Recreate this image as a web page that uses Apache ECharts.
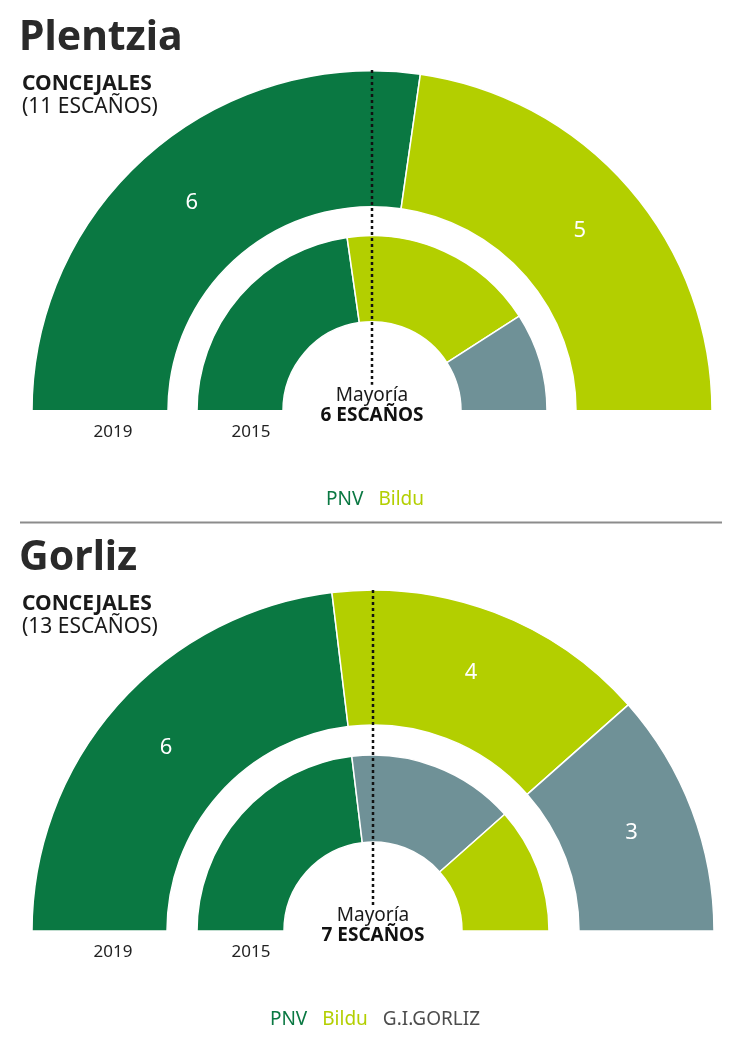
<!DOCTYPE html>
<html>
<head>
<meta charset="utf-8">
<script src="https://cdn.jsdelivr.net/npm/echarts@6/dist/echarts.min.js"></script>
<style>
  html, body { margin: 0; padding: 0; background: #fff; }
  #chart { width: 745px; height: 1048px; }
</style>
</head>
<body>
<div id="chart"></div>
<script>
// datos: escaños por partido
const plentziaParties2019 = ['PNV', 'Bildu'];
const plentziaSeats2019 = [6, 5];
const plentziaParties2015 = ['PNV', 'Bildu', 'Otros'];
const plentziaSeats2015 = [5, 4, 2];

const gorlizParties2019 = ['PNV', 'Bildu', 'G.I.GORLIZ'];
const gorlizSeats2019 = [6, 4, 3];
const gorlizParties2015 = ['PNV', 'G.I.GORLIZ', 'Bildu'];
const gorlizSeats2015 = [6, 4, 3];

const yearLabels = ['2019', '2015'];

const partyColors = {
  'PNV': '#0a7842',
  'Bildu': '#b3cf00',
  'Otros': '#6f9197',
  'G.I.GORLIZ': '#6f9197'
};

var FONT = '"Noto Sans", sans-serif';

function pieData(names, values) {
  return names.map(function (n, i) {
    return { name: n, value: values[i], itemStyle: { color: partyColors[n] } };
  });
}

function ring(names, values, cx, cy, r0, r1, showLabel) {
  return {
    type: 'pie',
    center: [cx, cy],
    radius: [r0, r1],
    startAngle: 180,
    endAngle: 0,
    clockwise: true,
    silent: true,
    animation: false,
    itemStyle: { borderColor: '#fff', borderWidth: 1.5 },
    label: {
      show: showLabel,
      position: 'inside',
      color: '#fff',
      fontSize: 22,
      fontFamily: FONT,
      formatter: '{c}'
    },
    labelLine: { show: false },
    emphasis: { disabled: true },
    data: pieData(names, values)
  };
}

// textos de cada bloque
function blockTexts(title, total, majority, cx, cy, topY) {
  var dy = cy - 410.7;
  var mid = { textVerticalAlign: 'middle', verticalAlign: 'middle' };
  function t(text, x, y, font, fill, center) {
    var s = { text: text, x: x, y: y, font: font, fill: fill, textVerticalAlign: 'middle', verticalAlign: 'middle' };
    if (center) { s.textAlign = 'center'; s.align = 'center'; }
    return { type: 'text', z: 100, style: s };
  }
  return [
    t(title, 19, 38 + dy, 'bold 41px ' + FONT, '#2a2a2a'),
    t('CONCEJALES', 22, 84 + dy, 'bold 21px ' + FONT, '#1a1a1a'),
    t('(' + total + ' ESCAÑOS)', 22, 107 + dy, '21px ' + FONT, '#1a1a1a'),
    { type: 'line', z: 100, shape: { x1: cx, y1: topY, x2: cx, y2: cy - 26 }, style: { stroke: '#111', lineWidth: 2.5, lineDash: [3, 3] } },
    t('Mayoría', cx, cy - 15, '19px ' + FONT, '#1a1a1a', true),
    t(majority + ' ESCAÑOS', cx, cy + 5, 'bold 19px ' + FONT, '#111', true),
    t(yearLabels[0], 113, cy + 21, '17px ' + FONT, '#222', true),
    t(yearLabels[1], 251, cy + 21, '17px ' + FONT, '#222', true)
  ];
}

function legendFor(names, top) {
  return {
    top: top,
    left: 'center',
    icon: 'none',
    itemWidth: 0,
    itemHeight: 14,
    itemGap: 10,
    selectedMode: false,
    textStyle: { fontSize: 19, fontFamily: FONT },
    data: names.map(function (n) {
      return { name: n, textStyle: { color: n === 'G.I.GORLIZ' ? '#4d4d4d' : partyColors[n] } };
    })
  };
}

var PX = 372, PY = 410.7;
var GX = 373, GY = 931;

var myChart = echarts.init(document.getElementById('chart'));
myChart.setOption({
  animation: false,
  legend: [
    legendFor(['PNV', 'Bildu'], 485),
    legendFor(['PNV', 'Bildu', 'G.I.GORLIZ'], 1005)
  ],
  graphic: blockTexts('Plentzia', 11, 6, PX, PY, 70)
    .concat(blockTexts('Gorliz', 13, 7, GX, GY, 590))
    .concat([
      { type: 'line', z: 100, shape: { x1: 20, y1: 522.5, x2: 722, y2: 522.5 }, style: { stroke: '#8c8c8c', lineWidth: 2 } }
    ]),
  series: [
    ring(plentziaParties2019, plentziaSeats2019, PX, PY, 204, 340, true),
    ring(plentziaParties2015, plentziaSeats2015, PX, PY, 89, 175, false),
    ring(gorlizParties2019, gorlizSeats2019, GX, GY, 206, 341, true),
    ring(gorlizParties2015, gorlizSeats2015, GX, GY, 89, 176, false)
  ]
});
</script>
</body>
</html>
